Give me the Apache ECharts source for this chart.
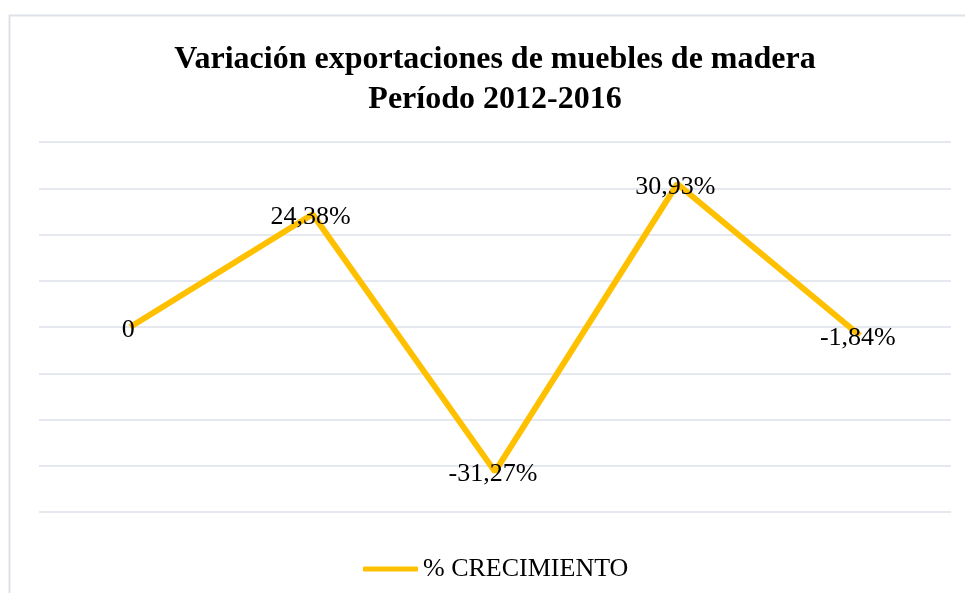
<!DOCTYPE html>
<html>
<head>
<meta charset="utf-8">
<script src="https://cdn.jsdelivr.net/npm/echarts@6/dist/echarts.min.js"></script>
<style>
html,body{margin:0;padding:0;background:#fff;}
#chart{width:965px;height:593px;}
</style>
</head>
<body>
<div id="chart"></div>
<script>
var categories = ['2012', '2013', '2014', '2015', '2016'];
var crecimiento = [0, 24.38, -31.27, 30.93, -1.84];
var seriesName = '% CRECIMIENTO';
var titleLines = ['Variación exportaciones de muebles de madera', 'Período 2012-2016'];

var chart = echarts.init(document.getElementById('chart'), null, {renderer: 'canvas'});
var serif = '"Liberation Serif", "DejaVu Serif", serif';

function fmt(v) {
  if (v === 0) return '0';
  return v.toFixed(2).replace('.', ',') + '%';
}

chart.setOption({
  backgroundColor: '#ffffff',
  animation: false,
  graphic: [{
    type: 'rect',
    shape: {x: 9.5, y: 15.5, width: 1200, height: 1200},
    style: {fill: 'none', stroke: '#dde1e8', lineWidth: 2},
    silent: true,
    z: -1
  }],
  title: {
    text: titleLines.join('\n'),
    left: 490,
    top: 35,
    textAlign: 'center',
    textStyle: {
      fontFamily: serif,
      fontWeight: 'bold',
      fontSize: 32,
      lineHeight: 40,
      color: '#000'
    }
  },
  legend: {
    data: [seriesName],
    left: 358,
    top: 551,
    icon: 'roundRect',
    itemWidth: 55,
    itemHeight: 5,
    textStyle: {fontFamily: serif, fontSize: 26, color: '#000'}
  },
  grid: {left: 39, right: 14, top: 142, bottom: 81},
  xAxis: {
    type: 'category',
    data: categories,
    boundaryGap: true,
    axisLine: {show: false},
    axisTick: {show: false},
    axisLabel: {show: false},
    splitLine: {show: false}
  },
  yAxis: {
    type: 'value',
    min: -40,
    max: 40,
    interval: 10,
    axisLine: {show: false},
    axisTick: {show: false},
    axisLabel: {show: false},
    splitLine: {show: true, lineStyle: {color: '#dde2ea', width: 1.5}}
  },
  series: [{
    name: seriesName,
    type: 'line',
    data: crecimiento,
    symbol: 'circle',
    symbolSize: 0,
    showSymbol: true,
    itemStyle: {color: '#FFC000'},
    lineStyle: {color: '#FFC000', width: 6},
    label: {
      show: true,
      position: 'inside',
      offset: [-2, 3],
      formatter: function (p) { return fmt(p.value); },
      fontFamily: serif,
      fontSize: 26,
      color: '#000'
    }
  }]
});
</script>
</body>
</html>
